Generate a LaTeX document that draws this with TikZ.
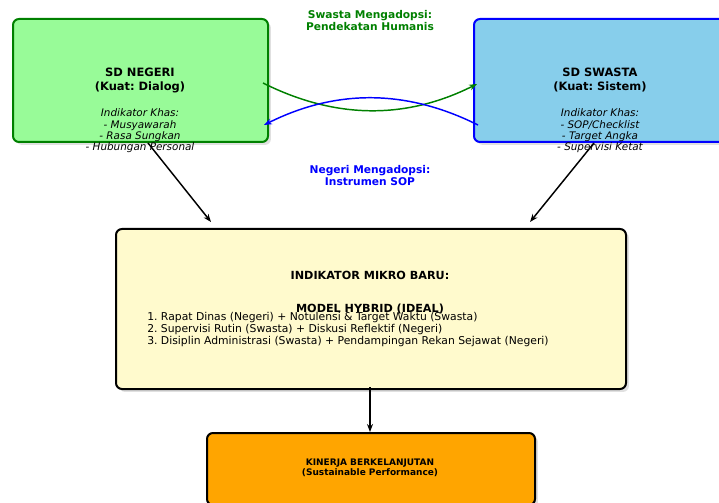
\documentclass[tikz,border=0pt]{standalone}
\usepackage{fontspec}
\setmainfont{DejaVu Sans}
\frenchspacing
\usetikzlibrary{calc,shadows,arrows.meta}

\definecolor{negfill}{RGB}{152,251,152}
\definecolor{negline}{RGB}{0,128,0}
\definecolor{swafill}{RGB}{135,206,235}
\definecolor{swaline}{RGB}{0,0,255}
\definecolor{hybfill}{RGB}{255,250,205}
\definecolor{kinfill}{RGB}{255,165,0}

\begin{document}
\begin{tikzpicture}[x=0.75pt,y=0.75pt,yscale=-1,xscale=1,
    box/.style={draw, line width=1.5pt, rounded corners=4.5pt, inner sep=0pt,
      general shadow={fill=black!12, shadow xshift=2.2pt, shadow yshift=-2.2pt}},
    title/.style={inner sep=0pt, align=center, font=\fontsize{8.6}{10.5}\selectfont\bfseries},
    khas/.style={inner sep=0pt, align=center, font=\fontsize{7.8}{8.5}\selectfont\itshape},
    adopt/.style={inner sep=0pt, align=center, font=\fontsize{8}{9}\selectfont\bfseries},
    flow/.style={line width=1.1pt, -{Stealth[length=6pt,width=4.5pt]}}]
    \useasboundingbox (0,0) rectangle (719,503);
    \clip (0,0) rectangle (719,503);

    % boxes
    \node [box, fill=negfill, draw=negline, minimum width=191.25pt, minimum height=92.25pt] (neg) at (140.5,80.5) {};
    \node [box, fill=swafill, draw=swaline, minimum width=191.25pt, minimum height=92.25pt] (swa) at (601.5,80.5) {};
    \node [box, fill=hybfill, minimum width=382.5pt, minimum height=120pt] (hyb) at (371,309) {};
    \node [box, fill=kinfill, minimum width=246pt, minimum height=54pt] (kin) at (371,469) {};

    % texts
    \node [title] (negt) at (140,80) {SD NEGERI\\(Kuat: Dialog)};
    \node [khas] (negk) at (140,131) {Indikator Khas:\\- Musyawarah\\- Rasa Sungkan\\- Hubungan Personal};
    \node [title] (swat) at (600,80) {SD SWASTA\\(Kuat: Sistem)};
    \node [khas] (swak) at (600,131) {Indikator Khas:\\- SOP/Checklist\\- Target Angka\\- Supervisi Ketat};
    \node [adopt, text=negline] (lbsw) at (370,21) {Swasta Mengadopsi:\\Pendekatan Humanis};
    \node [adopt, text=swaline] (lbng) at (370,176) {Negeri Mengadopsi:\\Instrumen SOP};
    \node [inner sep=0pt, align=center, font=\fontsize{8.4}{12.4}\selectfont\bfseries] (hybt) at (370,292.5) {INDIKATOR MIKRO BARU:\\[12.4pt]MODEL HYBRID (IDEAL)};
    \node [inner sep=0pt, align=left, anchor=west, font=\fontsize{8.1}{9}\selectfont] (list) at (147,330) {1. Rapat Dinas (Negeri) + Notulensi \& Target Waktu (Swasta)\\2. Supervisi Rutin (Swasta) + Diskusi Reflektif (Negeri)\\3. Disiplin Administrasi (Swasta) + Pendampingan Rekan Sejawat (Negeri)};
    \node [inner sep=0pt, align=center, font=\fontsize{6.75}{7.5}\selectfont\bfseries] (kint) at (370,468) {KINERJA BERKELANJUTAN\\(Sustainable Performance)};

    % exchange curves
    \draw [flow, draw=negline] ($(neg.east)+(-6,2.5)$) .. controls +(72,36) and +(-72,36) .. ($(swa.west)+(4,3.5)$);
    \draw [flow, draw=swaline] ($(swa.west)+(5,44.5)$) .. controls +(-72,-36) and +(72,-36) .. ($(neg.east)+(-5,44.5)$);

    % into the hybrid model
    \draw [flow] ($(neg.south)+(7.5,0)$) -- ($(hyb.north)+(-160,-6)$);
    \draw [flow] ($(swa.south)+(-7.5,0)$) -- ($(hyb.north)+(159,-6)$);
    \draw [flow] ($(hyb.south)+(-1,-3)$) -- ($(kin.north)+(-1,0)$);
\end{tikzpicture}
\end{document}
